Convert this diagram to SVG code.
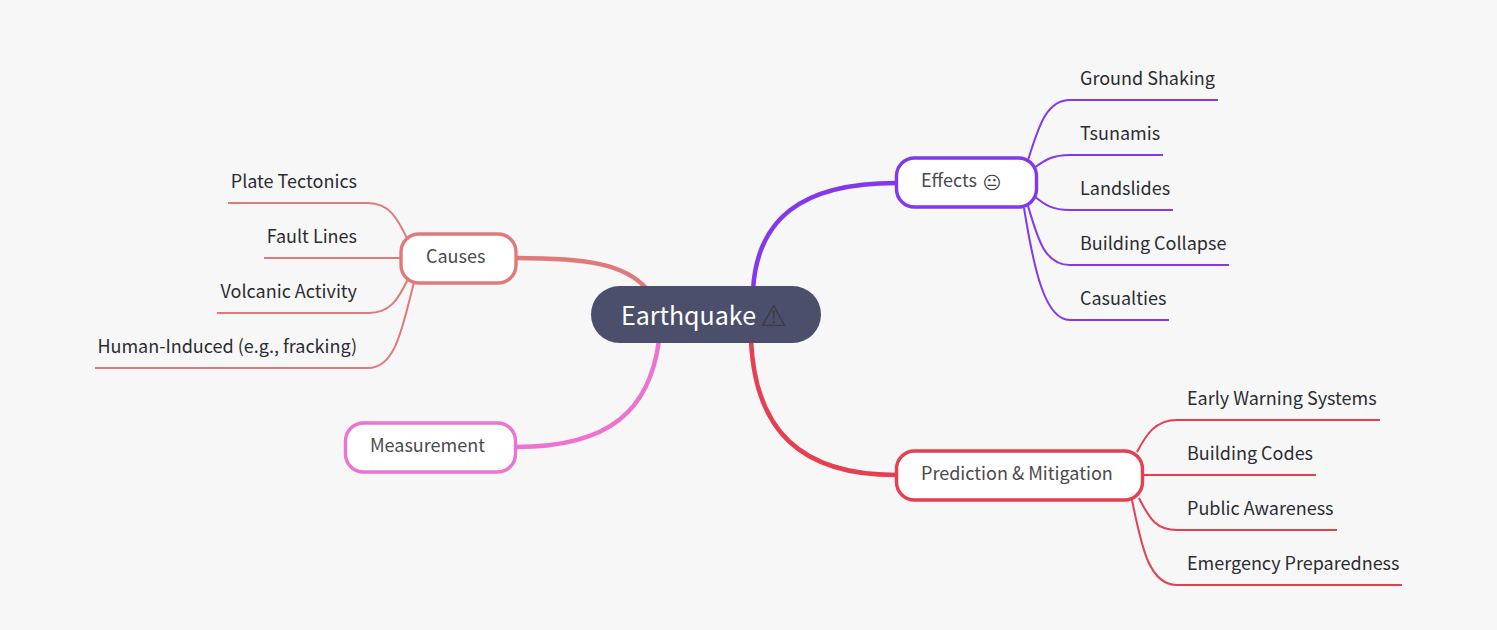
<svg xmlns="http://www.w3.org/2000/svg" width="1497" height="630" viewBox="0 0 1497 630">
<style>
text{font-family:"Noto Sans CJK SC","Noto Sans CJK JP",sans-serif;font-size:18px;fill:#2b2d33}
.n{fill:#fff;stroke-width:3.4}
.m{font-size:18px;fill:#4a4a4f}
.c{fill:none;stroke-width:2}
.t{fill:none;stroke-width:4.500}
.e{font-family:"DejaVu Sans",sans-serif}
</style>
<rect width="1497" height="630" fill="#f7f7f7"/>
<g id="connectors">
<path class="t" stroke="#8338ec" d="M753 290C757 220 800 183 896 183"/>
<path class="t" stroke="#e63f52" d="M751 340C755 430 800 475 896 475"/>
<path class="t" stroke="#e07a7a" d="M646 288C625 265 590 258 516 258"/>
<path class="t" stroke="#ec74d0" d="M659 340C650 410 610 447 516 447"/>
<g stroke="#8338ec"><path class="c" d="M1028 160C1038 130 1045 100 1070 100H1218"/><path class="c" d="M1034 168C1045 160 1052 155 1070 155H1163"/><path class="c" d="M1034 196C1045 205 1052 210 1070 210H1173"/><path class="c" d="M1028 206C1038 240 1045 265 1070 265H1229"/><path class="c" d="M1024 208C1034 270 1045 320 1070 320H1169"/></g>
<g stroke="#e63f52"><path class="c" d="M1137 452C1146 435 1155 420 1177 420H1380"/><path class="c" d="M1143 475H1177H1316"/><path class="c" d="M1139 498C1150 520 1157 530 1177 530H1337"/><path class="c" d="M1132 500C1142 550 1150 585 1177 585H1402"/></g>
<g stroke="#e07a7a"><path class="c" d="M407 238C398 220 390 203 368 203H228"/><path class="c" d="M401 258H264"/><path class="c" d="M408 279C398 300 390 313 368 313H217"/><path class="c" d="M414 282C402 330 395 368 368 368H95"/></g>
</g>
<g id="central"><rect x="591" y="286" width="230" height="57" rx="28.500" fill="#4c4f6b"/><text x="621" y="325" style="font-size:25px;fill:#fff">Earthquake</text><text class="e" x="760" y="326" style="font-size:30px;fill:#3a3b45">⚠&#xFE0E;</text></g>
<g id="effects"><rect class="n" x="896.500" y="158" width="140" height="49" rx="18" stroke="#8338ec"/><text class="m" x="921" y="187">Effects</text><text class="e" x="982.500" y="189" style="font-size:18px;fill:#3a3a3f">😐&#xFE0E;</text></g>
<g id="prediction"><rect class="n" x="896.500" y="451" width="246" height="49" rx="18" stroke="#e63f52"/><text class="m" x="921" y="480">Prediction &amp; Mitigation</text></g>
<g id="causes"><rect class="n" x="401" y="234" width="115" height="49" rx="18" stroke="#e07a7a"/><text class="m" x="426" y="263">Causes</text></g>
<g id="measurement"><rect class="n" x="345.500" y="423" width="170" height="49" rx="18" stroke="#ec74d0"/><text class="m" x="370" y="452">Measurement</text></g>
<g id="leaves">
<text x="1080" y="85">Ground Shaking</text><text x="1080" y="140">Tsunamis</text><text x="1080" y="195">Landslides</text><text x="1080" y="250">Building Collapse</text><text x="1080" y="305">Casualties</text>
<text x="1187" y="405">Early Warning Systems</text><text x="1187" y="460">Building Codes</text><text x="1187" y="515">Public Awareness</text><text x="1187" y="570">Emergency Preparedness</text>
<text x="357" y="188" text-anchor="end">Plate Tectonics</text><text x="357" y="243" text-anchor="end">Fault Lines</text><text x="357" y="298" text-anchor="end">Volcanic Activity</text><text x="357" y="353" text-anchor="end">Human-Induced (e.g., fracking)</text>
</g>
</svg>
